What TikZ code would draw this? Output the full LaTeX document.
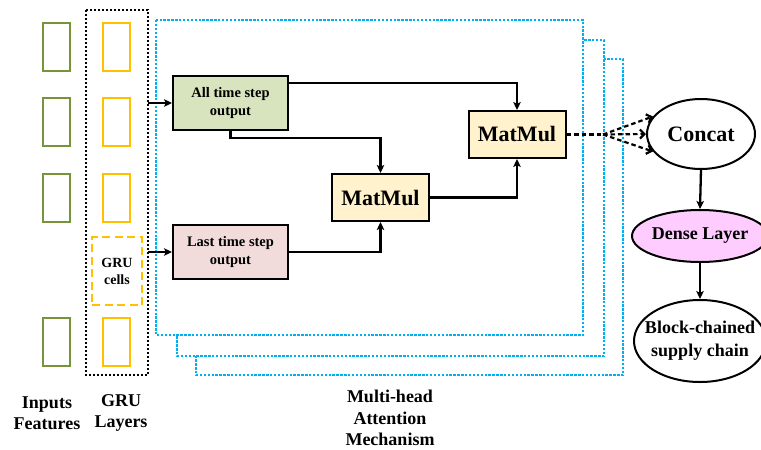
\documentclass[tikz,border=0pt]{standalone}
\usepackage{fontspec}
\setmainfont{Liberation Serif}
\usetikzlibrary{arrows.meta,shapes.geometric,calc}

\definecolor{inputgreen}{HTML}{77933C}
\definecolor{gruyellow}{HTML}{FFC000}
\definecolor{headblue}{HTML}{00B0F0}
\definecolor{allfill}{HTML}{D7E4BD}
\definecolor{lastfill}{HTML}{F2DCDB}
\definecolor{mmfill}{HTML}{FFF2CC}
\definecolor{densefill}{HTML}{FFCCFF}

\tikzset{
  cellbox/.style={line width=1.8pt},
  headframe/.style={draw=headblue, fill=white, line width=1.6pt, dash pattern=on 2.4pt off 1.5pt},
  procbox/.style={draw=black, line width=2pt, rectangle, inner sep=0pt, align=center,
    font=\bfseries\fontsize{14.5}{18}\selectfont},
  mmbox/.style={procbox, fill=mmfill, minimum width=97pt, minimum height=47pt,
    font=\bfseries\fontsize{22}{24}\selectfont},
  oval/.style={draw=black, line width=2pt, ellipse, inner sep=0pt},
  ovaltext/.style={align=center, font=\bfseries\fontsize{#1}{23}\selectfont},
  flow/.style={line width=2.3pt, -{Stealth[length=8pt,width=7.5pt,inset=1.8pt]}},
  fanout/.style={line width=2.2pt, dash pattern=on 4.5pt off 3pt},
  fanarrow/.style={fanout, -{Straight Barb[length=4.5pt,width=9pt]}},
  caption/.style={align=center, font=\bfseries\fontsize{18}{21.5}\selectfont}
}

\begin{document}
\begin{tikzpicture}[x=1pt,y=-1pt]
\useasboundingbox (0,0) rectangle (761,450);

% stacked attention heads, back to front
\draw[headframe] (196,59) rectangle (623,375);
\draw[headframe] (177,40) rectangle (604,356);
\draw[headframe] (156,20) rectangle (583,335);

% GRU layer frame
\draw[line width=1.8pt, dash pattern=on 2.4pt off 1.6pt] (86,10) rectangle (148,375);

% input feature cells and GRU cells
\foreach \ya/\yb in {23/71, 98/146, 174/222, 318/366} {
  \draw[cellbox, draw=inputgreen] (43,\ya) rectangle (70,\yb);
  \draw[cellbox, draw=gruyellow] (103,\ya) rectangle (130,\yb);
}
\node[draw=gruyellow, line width=1.8pt, dash pattern=on 8pt off 4.5pt,
  minimum width=50pt, minimum height=68pt, inner sep=0pt, align=center,
  font=\bfseries\fontsize{14}{17}\selectfont] (grucells) at (117,271) {GRU\\cells};

% attention blocks
\node[procbox, fill=allfill, minimum width=115pt, minimum height=54pt] (all) at (230.5,103) {All time step\\output};
\node[procbox, fill=lastfill, minimum width=115pt, minimum height=54pt] (last) at (230.5,252) {Last time step\\output};
\node[mmbox] (mm1) at (380.5,197.5) {MatMul};
\node[mmbox] (mm2) at (517,134.5) {MatMul};

% output stage
\node[oval, minimum width=108pt, minimum height=70pt,
  label={[ovaltext=22]center:Concat}] (concat) at (701,134) {};
\node[oval, fill=densefill, minimum width=136pt, minimum height=52pt,
  label={[ovaltext=18]center:Dense Layer}] (dense) at (700,236) {};
\node[oval, minimum width=132pt, minimum height=82pt,
  label={[ovaltext=18]center:Block-chained\\supply chain}] (block) at (700,341) {};

% captions
\node[caption] (capin) at (47,413) {Inputs\\Features};
\node[caption] (capgru) at (121,413) {GRU\\Layers};
\node[caption] (capatt) at (390,418) {Multi-head\\Attention\\Mechanism};

% connectors
\coordinate (g1) at (148,103);
\coordinate (g2) at (148,252);
\draw[flow] (g1) -- (all.west);
\draw[flow] (g2) -- (last.west);
\draw[flow] ($(all.north east)+(0,8)$) -| (mm2.north);
\draw[flow] (all.south) -- ++(0,7) -| (mm1.north);
\draw[flow] (last.east) -| (mm1.south);
\draw[flow] (mm1.east) -| (mm2.south);

\coordinate (fan) at (603,134.5);
\draw[fanout] (mm2.east) -- (fan);
\draw[fanarrow] (fan) -- (concat.160);
\draw[fanarrow] (fan) -- (concat.west);
\draw[fanarrow] (fan) -- (concat.200);

\draw[flow] (concat.south) -- (dense.north);
\draw[flow] (dense.south) -- (block.north);
\end{tikzpicture}
\end{document}
